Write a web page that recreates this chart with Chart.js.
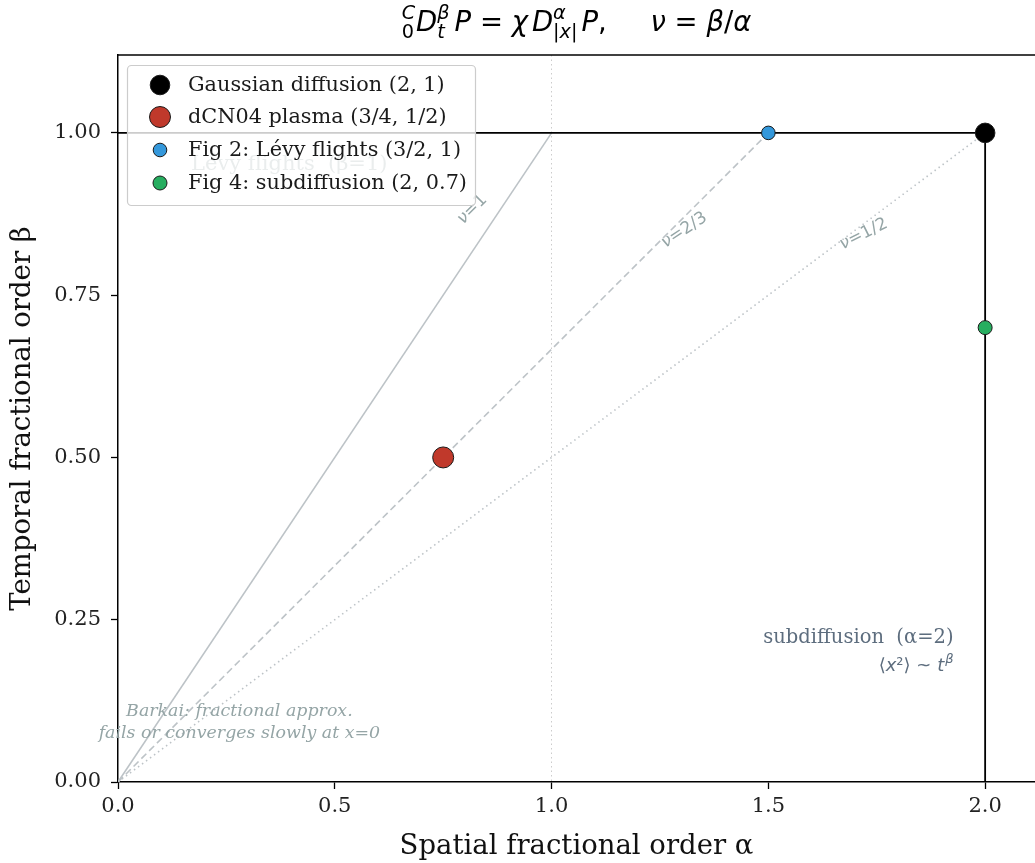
<!DOCTYPE html>
<html>
<head>
<meta charset="utf-8">
<script src="https://cdn.jsdelivr.net/npm/chart.js@4/dist/chart.umd.min.js"></script>
<style>
html,body{margin:0;padding:0;background:#fff;overflow:hidden;}
canvas{display:block;}
</style>
</head>
<body>
<canvas id="c" width="1035" height="863"></canvas>
<script>
// ---------------- data ----------------
const pointLabels = ['Gaussian diffusion (2, 1)', 'dCN04 plasma (3/4, 1/2)', 'Fig 2: Lévy flights (3/2, 1)', 'Fig 4: subdiffusion (2, 0.7)'];
const pointAlpha = [2, 0.75, 1.5, 2];
const pointBeta = [1, 0.5, 1, 0.7];
const pointColors = ['#000000', '#c0392b', '#3498db', '#27ae60'];

const nuLabels = ['ν=1', 'ν=2/3', 'ν=1/2'];
const nuLineAlpha = [[0, 1], [0, 1.5], [0, 2]];
const nuLineBeta = [[0, 1], [0, 1], [0, 1]];
const nuLabelAlpha = [0.817, 1.306, 1.72];
const nuLabelBeta = [0.882, 0.85, 0.844];

const boundaryAlpha = [0, 2, 2];
const boundaryBeta = [1, 1, 0];

const xTicks = [0, 0.5, 1.0, 1.5, 2.0];
const yTicks = [0, 0.25, 0.5, 0.75, 1.0];
const xRange = [0, 2.115];
const yRange = [0, 1.12];

// ---------------- build ----------------
const SERIF = '"DejaVu Serif", serif';
const SANS = '"DejaVu Sans", sans-serif';
const toXY = (xs, ys) => xs.map((x, i) => ({x: x, y: ys[i]}));

const pointStyle = [
  {r: 9.8, bw: 1.0},
  {r: 10.5, bw: 1.0},
  {r: 6.8, bw: 1.0},
  {r: 7, bw: 1.0}
];

const datasets = [];
pointLabels.forEach((lab, i) => {
  datasets.push({
    label: lab, isPoint: true,
    data: [{x: pointAlpha[i], y: pointBeta[i]}],
    backgroundColor: pointColors[i], borderColor: '#1a1a1a', borderWidth: pointStyle[i].bw,
    pointRadius: pointStyle[i].r, pointHoverRadius: pointStyle[i].r, showLine: false
  });
});
datasets.push({label: 'boundary', data: toXY(boundaryAlpha, boundaryBeta), showLine: true,
  borderColor: '#000', borderWidth: 1.8, pointRadius: 0, fill: false});
const nuDash = [[], [7, 4], [1.5, 3.5]];
nuLabels.forEach((lab, i) => {
  datasets.push({label: lab, data: toXY(nuLineAlpha[i], nuLineBeta[i]), showLine: true,
    borderColor: '#bdc3c7', borderWidth: 1.6, borderDash: nuDash[i], pointRadius: 0, fill: false});
});

// ---------------- plugin: annotations, legend, title, spine ----------------
function mathRun(ctx, pieces, size) {
  let w = 0;
  const items = [];
  for (const p of pieces) {
    if (p.sp !== undefined) { w += p.sp; items.push({sp: p.sp}); continue; }
    if (p.sup !== undefined || p.sub !== undefined) {
      const s = size * 0.7;
      ctx.font = 'italic ' + s + 'px ' + SANS;
      const ws = p.sup ? ctx.measureText(p.sup).width : 0;
      ctx.font = (p.subUp ? '' : 'italic ') + s + 'px ' + SANS;
      const wb = p.sub ? ctx.measureText(p.sub).width : 0;
      const ww = Math.max(ws, wb);
      items.push({p: p, w: ww, s: s});
      w += ww + 1;
      continue;
    }
    ctx.font = (p.it ? 'italic ' : '') + size + 'px ' + SANS;
    const ww = ctx.measureText(p.t).width;
    items.push({p: p, w: ww});
    w += ww;
  }
  return {w: w, items: items};
}
function drawMath(ctx, pieces, size, cx, baseY) {
  const run = mathRun(ctx, pieces, size);
  let x = cx - run.w / 2;
  ctx.textBaseline = 'alphabetic';
  ctx.textAlign = 'left';
  for (const it of run.items) {
    if (it.sp !== undefined) { x += it.sp; continue; }
    const p = it.p;
    if (p.sup !== undefined || p.sub !== undefined) {
      if (p.sup) { ctx.font = 'italic ' + it.s + 'px ' + SANS; ctx.fillText(p.sup, x, baseY - size * 0.45); }
      if (p.sub) { ctx.font = (p.subUp ? '' : 'italic ') + it.s + 'px ' + SANS; ctx.fillText(p.sub, x, baseY + size * 0.26); }
      x += it.w + 1;
      continue;
    }
    ctx.font = (p.it ? 'italic ' : '') + size + 'px ' + SANS;
    ctx.fillText(p.t, x, baseY);
    x += it.w;
  }
}

const overlay = {
  id: 'overlay',
  afterDatasetsDraw(chart) {
    const ctx = chart.ctx, xs = chart.scales.x, ys = chart.scales.y, a = chart.chartArea;
    ctx.save();
    // top spine
    ctx.strokeStyle = '#000'; ctx.lineWidth = 1.5;
    ctx.beginPath(); ctx.moveTo(a.left - 0.75, a.top); ctx.lineTo(a.right, a.top); ctx.stroke();

    // nu labels
    const rot = [45, 33.7, 26.6];
    const NS = 17;
    ctx.fillStyle = '#95a5a6';
    ctx.textBaseline = 'middle';
    nuLabels.forEach((lab, i) => {
      ctx.save();
      ctx.translate(xs.getPixelForValue(nuLabelAlpha[i]), ys.getPixelForValue(nuLabelBeta[i]));
      ctx.rotate(-rot[i] * Math.PI / 180);
      const parts = lab.split('=');
      ctx.font = 'italic ' + NS + 'px ' + SANS;
      const w1 = ctx.measureText(parts[0]).width;
      ctx.font = NS + 'px ' + SANS;
      const w2 = ctx.measureText('=' + parts[1]).width;
      const x0 = -(w1 + w2) / 2;
      ctx.textAlign = 'left';
      ctx.font = 'italic ' + NS + 'px ' + SANS; ctx.fillText(parts[0], x0, 0);
      ctx.font = NS + 'px ' + SANS; ctx.fillText('=' + parts[1], x0 + w1, 0);
      ctx.restore();
    });

    // Barkai note
    ctx.font = 'italic 17.4px ' + SERIF;
    ctx.textAlign = 'center'; ctx.textBaseline = 'middle';
    const bx = xs.getPixelForValue(0.28);
    ctx.fillText('Barkai: fractional approx.', bx, ys.getPixelForValue(0.108));
    ctx.fillText('fails or converges slowly at x=0', bx, ys.getPixelForValue(0.075));

    // subdiffusion note
    ctx.fillStyle = '#5d6d7e';
    ctx.textAlign = 'right';
    ctx.font = '19.5px ' + SERIF;
    const rx = xs.getPixelForValue(1.927);
    ctx.fillText('subdiffusion  (α=2)', rx, ys.getPixelForValue(0.222));
    const F2 = 18;
    ctx.textAlign = 'left';
    const l2 = [['⟨', ''], ['x', 'italic '], ['²⟩ ~ ', ''], ['t', 'italic ']];
    let tw = 0;
    l2.forEach(p => { ctx.font = p[1] + F2 + 'px ' + SANS; tw += ctx.measureText(p[0]).width; });
    ctx.font = 'italic 13px ' + SANS; const bw = ctx.measureText('β').width;
    let x = rx - tw - bw - 1;
    const yl = ys.getPixelForValue(0.178);
    l2.forEach(p => { ctx.font = p[1] + F2 + 'px ' + SANS; ctx.fillText(p[0], x, yl); x += ctx.measureText(p[0]).width; });
    ctx.font = 'italic 13px ' + SANS; ctx.fillText('β', x + 1, yl - 7);

    // hidden Lévy flights note (under legend)
    ctx.fillStyle = '#95a5a6';
    ctx.font = '21px ' + SERIF;
    ctx.textAlign = 'center';
    ctx.fillText('Lévy flights  (β=1)', xs.getPixelForValue(0.395), ys.getPixelForValue(0.951));
    ctx.restore();
  },
  afterDraw(chart) {
    const ctx = chart.ctx, a = chart.chartArea;
    ctx.save();
    // legend
    const lx = 127, ly = 65, lw = 348, lh = 140;
    ctx.beginPath();
    ctx.roundRect(lx + 0.5, ly + 0.5, lw, lh, 4);
    ctx.fillStyle = 'rgba(255,255,255,0.8)';
    ctx.fill();
    ctx.strokeStyle = '#cccccc'; ctx.lineWidth = 1.2; ctx.stroke();
    const rowsY = [85, 117, 150, 183];
    const pts = chart.data.datasets.filter(d => d.isPoint);
    ctx.font = '20.8px ' + SERIF; ctx.textBaseline = 'middle'; ctx.textAlign = 'left';
    pts.forEach((d, i) => {
      ctx.beginPath();
      ctx.arc(160, rowsY[i], d.pointRadius, 0, Math.PI * 2);
      ctx.fillStyle = d.backgroundColor; ctx.fill();
      ctx.lineWidth = d.borderWidth; ctx.strokeStyle = d.borderColor; ctx.stroke();
      ctx.fillStyle = '#1a1a1a';
      ctx.fillText(d.label, 188, rowsY[i] + 1);
    });
    // title
    ctx.fillStyle = '#000';
    const pieces = [
      {sup: 'C', sub: '0', subUp: true}, {t: 'D', it: true}, {sup: 'β', sub: 't'}, {sp: 4},
      {t: 'P', it: true}, {t: ' = '}, {t: 'χ', it: true}, {sp: 4}, {t: 'D', it: true},
      {sup: 'α', sub: '|x|'}, {sp: 3}, {t: 'P', it: true}, {t: ',     '},
      {t: 'ν', it: true}, {t: ' = '}, {t: 'β', it: true}, {t: '/'}, {t: 'α', it: true}
    ];
    drawMath(ctx, pieces, 27.5, (a.left + a.right) / 2, 31);
    ctx.restore();
  }
};

const fmt = d => v => Number(v).toFixed(d);

new Chart(document.getElementById('c'), {
  type: 'scatter',
  data: {datasets: datasets},
  options: {
    responsive: false, animation: false, devicePixelRatio: 1,
    layout: {autoPadding: false, padding: {top: 55, right: 0, left: 0, bottom: 0}},
    plugins: {legend: {display: false}, tooltip: {enabled: false}, title: {display: false}},
    scales: {
      x: {
        type: 'linear', min: xRange[0], max: xRange[1],
        afterBuildTicks: s => { s.ticks = xTicks.map(v => ({value: v})); },
        afterFit: s => { s.height = 81; s.paddingRight = 0; s.paddingLeft = 0; },
        ticks: {callback: fmt(1), font: {family: SERIF, size: 21}, color: '#222', padding: 5, maxRotation: 0, autoSkip: false},
        grid: {display: true, drawOnChartArea: true, drawTicks: true, tickLength: 7,
          color: c => (c.tick && c.tick.value === 1) ? '#cccccc' : 'rgba(0,0,0,0)',
          lineWidth: 1, tickColor: '#000', tickWidth: 1.3, tickBorderDash: []},
        border: {display: true, color: '#000', width: 1.5, dash: [1.5, 3]},
        title: {display: true, text: 'Spatial fractional order α', font: {family: SERIF, size: 27.5}, color: '#111', padding: {top: 0, bottom: 0}}
      },
      y: {
        type: 'linear', min: yRange[0], max: yRange[1],
        afterBuildTicks: s => { s.ticks = yTicks.map(v => ({value: v})); },
        afterFit: s => { s.width = 118; s.paddingTop = 0; s.paddingBottom = 0; },
        ticks: {callback: fmt(2), font: {family: SERIF, size: 21}, color: '#222', padding: 10, autoSkip: false},
        grid: {display: true, drawOnChartArea: false, drawTicks: true, tickLength: 7, tickColor: '#000', tickWidth: 1.3},
        border: {display: true, color: '#000', width: 1.5},
        title: {display: true, text: 'Temporal fractional order β', font: {family: SERIF, size: 27.5}, color: '#111', padding: {top: 6, bottom: 0}}
      }
    }
  },
  plugins: [overlay]
});
</script>
</body>
</html>
